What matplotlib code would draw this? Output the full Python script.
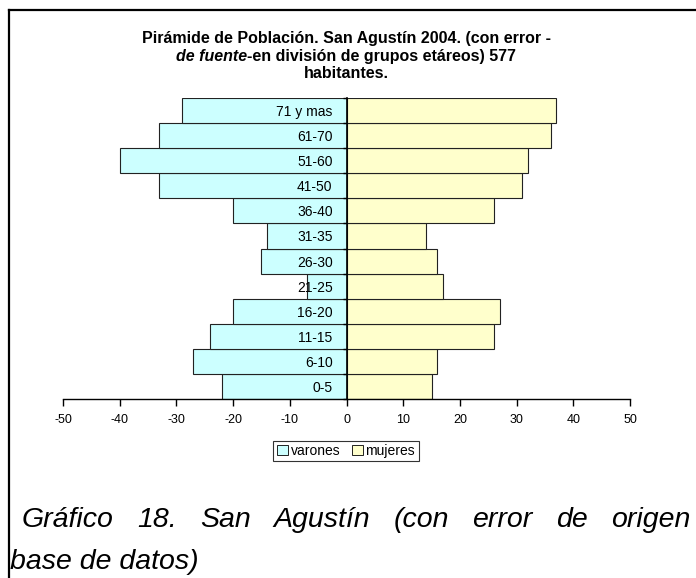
import matplotlib

matplotlib.use("Agg")
import matplotlib.pyplot as plt
from matplotlib.lines import Line2D
from matplotlib.patches import Patch

plt.rcParams["font.family"] = ["Liberation Sans", "DejaVu Sans"]

# Population pyramid, San Agustín 2004 (577 inhabitants), bottom to top.
grupos = ["0-5", "6-10", "11-15", "16-20", "21-25", "26-30",
          "31-35", "36-40", "41-50", "51-60", "61-70", "71 y mas"]
varones = [22, 27, 24, 20, 7, 15, 14, 20, 33, 40, 33, 29]
mujeres = [15, 16, 26, 27, 17, 16, 14, 26, 31, 32, 36, 37]
x_ticks = [-50, -40, -30, -20, -10, 0, 10, 20, 30, 40, 50]

W, H = 696, 578
CYAN = "#CCFFFF"
YELLOW = "#FFFFCC"

fig = plt.figure(figsize=(W / 100, H / 100), dpi=100)
fig.patch.set_facecolor("white")

# plot area in pixels: x 63..630, y 98..399
ax = fig.add_axes([63 / W, 1 - 399 / H, 567 / W, 301 / H])
pos = list(range(len(grupos)))
ax.barh(pos, [-v for v in varones], height=1.0, color=CYAN,
        edgecolor="#222222", linewidth=0.8, label="varones")
ax.barh(pos, mujeres, height=1.0, color=YELLOW,
        edgecolor="#222222", linewidth=0.8, label="mujeres")

ax.set_xlim(-50, 50)
ax.set_ylim(-0.5, len(grupos) - 0.5)
ax.set_xticks(x_ticks)
ax.set_xticklabels([str(t) for t in x_ticks], fontsize=9)
ax.set_yticks(pos)
ax.set_yticklabels(grupos, fontsize=8.5)
ax.set_yticks([p - 0.5 for p in pos] + [len(grupos) - 0.5], minor=True)

for side in ("top", "right"):
    ax.spines[side].set_visible(False)
ax.spines["left"].set_position(("data", 0))
ax.spines["left"].set_linewidth(1.2)
ax.spines["bottom"].set_linewidth(1.0)
ax.tick_params(axis="x", direction="out", length=5, width=1.0, pad=6)
ax.tick_params(axis="y", which="major", length=0, pad=10)
ax.tick_params(axis="y", which="minor", direction="out", length=3, width=1.0)

# title: three centred lines, the second one mixes italic and bold
cx = 346
tsize = 11.5
fig.text(cx / W, 1 - 39 / H, "Pirámide de Población. San Agustín 2004. (con error -",
         ha="center", va="center", fontsize=tsize, fontweight="bold")
fig.text(cx / W, 1 - 74 / H, "habitantes.", ha="center", va="center",
         fontsize=tsize, fontweight="bold")
t_it = fig.text(0, 1 - 56.5 / H, "de fuente", ha="left", va="center",
                fontsize=tsize, fontweight="bold", fontstyle="italic")
t_bd = fig.text(0, 1 - 56.5 / H, "-en división de grupos etáreos) 577", ha="left",
                va="center", fontsize=tsize, fontweight="bold")
r = fig.canvas.get_renderer()
w_it = t_it.get_window_extent(r).width
w_bd = t_bd.get_window_extent(r).width
x0 = cx - (w_it + w_bd) / 2
t_it.set_x(x0 / W)
t_bd.set_x((x0 + w_it) / W)

# legend box under the axis
handles = [Patch(facecolor=CYAN, edgecolor="black", linewidth=0.6, label="varones"),
           Patch(facecolor=YELLOW, edgecolor="black", linewidth=0.6, label="mujeres")]
leg = fig.legend(handles=handles, loc="center", bbox_to_anchor=(346 / W, 1 - 451 / H),
                 ncol=2, fontsize=10, frameon=True, fancybox=False, shadow=False,
                 borderpad=0.25, handlelength=0.8, handleheight=0.8,
                 handletextpad=0.2, columnspacing=0.8, borderaxespad=0)
leg.get_frame().set_edgecolor("black")
leg.get_frame().set_linewidth(0.8)

# caption below the chart, first line justified
cap_words = ["Gráfico", "18.", "San", "Agustín", "(con", "error", "de", "origen"]
cap_style = dict(fontsize=20.5, fontstyle="italic", va="baseline", ha="left")
texts = [fig.text(0, 1 - 527 / H, w, **cap_style) for w in cap_words]
widths = [t.get_window_extent(r).width for t in texts]
left, right = 22, 690
gap = (right - left - sum(widths)) / (len(texts) - 1)
x = left
for t, w in zip(texts, widths):
    t.set_x(x / W)
    x += w + gap
fig.text(10 / W, 1 - 569 / H, "base de datos)", **cap_style)

# page frame (top and left edges)
fig.add_artist(Line2D([8.5 / W, 1], [1 - 9.5 / H] * 2, transform=fig.transFigure,
                      color="black", linewidth=1.6))
fig.add_artist(Line2D([8.5 / W] * 2, [0, 1 - 9.5 / H], transform=fig.transFigure,
                      color="black", linewidth=1.6))

fig.savefig("out.png", dpi=100)
plt.close(fig)
